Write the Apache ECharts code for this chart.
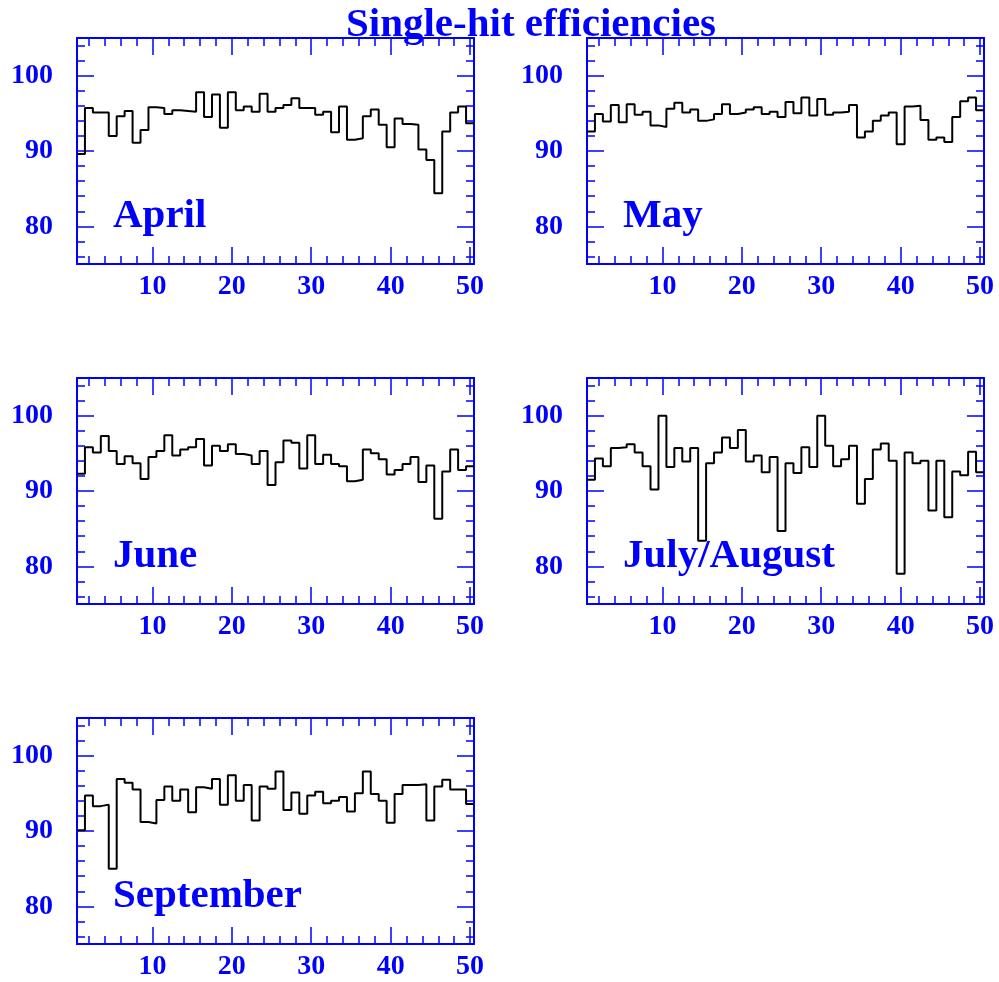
<!DOCTYPE html>
<html>
<head>
<meta charset="utf-8">
<title>Single-hit efficiencies</title>
<script src="https://cdn.jsdelivr.net/npm/echarts@6/dist/echarts.min.js"></script>
<style>
  html, body { margin: 0; padding: 0; background: #ffffff; }
  #chart { width: 999px; height: 982px; }
</style>
</head>
<body>
<div id="chart"></div>
<script>
// Single-hit efficiency (%) per detector plane, bins 1..50
const months = ['April', 'May', 'June', 'July/August', 'September'];

const april = [89.6, 95.7, 95.1, 95.1, 92.0, 94.6, 95.3, 91.1, 92.8, 95.8,
               95.7, 94.9, 95.4, 95.3, 95.2, 97.8, 94.5, 97.5, 93.1, 97.8,
               95.4, 95.9, 95.2, 97.6, 95.2, 95.7, 96.1, 97.0, 95.7, 95.7,
               94.8, 95.2, 92.5, 95.9, 91.5, 91.7, 94.6, 95.5, 93.5, 90.5,
               94.3, 93.6, 93.5, 90.2, 88.8, 84.4, 92.6, 95.1, 95.9, 93.7];

const may = [92.6, 94.9, 93.9, 96.1, 93.8, 96.2, 94.8, 95.2, 93.4, 93.2,
             95.6, 96.4, 95.1, 95.5, 94.0, 94.2, 94.9, 96.2, 94.9, 95.1,
             95.5, 95.8, 94.9, 95.2, 94.5, 96.5, 95.0, 97.1, 94.7, 96.9,
             94.8, 95.1, 95.2, 96.1, 91.8, 92.6, 94.0, 94.7, 95.1, 90.9,
             95.9, 96.0, 94.1, 91.5, 91.8, 91.2, 94.5, 96.6, 97.1, 95.4];

const june = [92.3, 95.8, 95.1, 97.3, 95.3, 93.6, 94.6, 93.7, 91.6, 94.5,
              95.3, 97.4, 94.7, 95.5, 95.8, 96.9, 93.4, 96.0, 95.3, 96.2,
              94.9, 94.7, 93.6, 95.3, 90.8, 93.8, 96.7, 96.4, 93.0, 97.4,
              93.6, 94.8, 93.6, 93.3, 91.3, 91.5, 95.5, 95.0, 94.2, 92.2,
              92.8, 93.6, 94.5, 91.2, 93.4, 86.3, 92.6, 95.5, 92.8, 93.3];

const julyAugust = [91.5, 94.3, 93.3, 95.7, 95.8, 96.2, 95.1, 93.3, 90.2, 100.0,
                    93.2, 95.7, 93.9, 95.7, 83.4, 93.7, 95.1, 97.1, 95.7, 98.1,
                    93.9, 94.7, 92.5, 94.5, 84.7, 93.7, 92.4, 95.8, 93.2, 100.0,
                    96.0, 93.3, 94.2, 96.0, 88.3, 91.6, 95.5, 96.3, 94.0, 79.0,
                    95.1, 93.7, 94.0, 87.4, 94.0, 86.5, 92.6, 92.1, 95.2, 92.5];

const september = [90.1, 94.7, 93.3, 93.5, 85.0, 96.9, 96.4, 95.5, 91.2, 91.0,
                   94.1, 95.9, 94.0, 95.5, 92.5, 95.8, 95.6, 96.9, 93.5, 97.4,
                   94.0, 96.1, 91.4, 95.9, 95.6, 97.9, 92.8, 95.1, 92.3, 94.7,
                   95.2, 93.7, 94.0, 94.5, 92.6, 95.0, 97.9, 94.9, 94.0, 91.1,
                   94.9, 96.1, 96.1, 96.2, 91.4, 95.9, 96.8, 95.5, 95.5, 93.6];

const xMajorTicks = [10, 20, 30, 40, 50];
const xMinorTicks = [2, 4, 6, 8, 12, 14, 16, 18, 22, 24, 26, 28, 32, 34, 36, 38, 42, 44, 46, 48];
const yMajorTicks = [80, 90, 100];
const yMinorTicks = [76, 78, 82, 84, 86, 88, 92, 94, 96, 98, 102, 104];

const series = [april, may, june, julyAugust, september];

// Panel layout (pixels)
const panelPos = [
  { left: 77, top: 38 }, { left: 587, top: 38 },
  { left: 77, top: 378 }, { left: 587, top: 378 },
  { left: 77, top: 718 }
];
const PANEL_W = 397, PANEL_H = 226;

const BLUE = '#0000ff';
const FONT = '"Liberation Serif", "Times New Roman", serif';
const frameStyle = { color: BLUE, width: 2 };
const tickStyle = { color: BLUE, width: 1.5 };

const grids = [], xAxes = [], yAxes = [], seriesList = [], graphics = [];

// Histogram outline: each bin is a flat step between its edges
function binOutline(values) {
  const pts = [];
  values.forEach((v, i) => {
    pts.push([i + 0.5, v]);
    pts.push([i + 1.5, v]);
  });
  return pts;
}

series.forEach((vals, g) => {
  const p = panelPos[g];
  grids.push({ left: p.left, top: p.top, width: PANEL_W, height: PANEL_H, containLabel: false });

  const xBase = { gridIndex: g, type: 'value', min: 0.5, max: 50.5, splitLine: { show: false } };
  const yBase = { gridIndex: g, type: 'value', min: 75, max: 105, splitLine: { show: false } };

  // x: major ticks (bottom with labels, top mirrored), then minor ticks on both sides
  xAxes.push(Object.assign({}, xBase, {
    position: 'bottom',
    axisLine: { show: true, onZero: false, lineStyle: frameStyle },
    axisTick: { show: true, inside: true, length: 17, customValues: xMajorTicks, lineStyle: tickStyle },
    axisLabel: { show: true, customValues: xMajorTicks, margin: 9, color: BLUE,
                 fontFamily: FONT, fontWeight: 'bold', fontSize: 28 }
  }));
  xAxes.push(Object.assign({}, xBase, {
    position: 'top',
    axisLine: { show: true, onZero: false, lineStyle: frameStyle },
    axisTick: { show: true, inside: true, length: 17, customValues: xMajorTicks, lineStyle: tickStyle },
    axisLabel: { show: false }
  }));
  xAxes.push(Object.assign({}, xBase, {
    position: 'bottom',
    axisLine: { show: false, onZero: false },
    axisTick: { show: true, inside: true, length: 8, customValues: xMinorTicks, lineStyle: tickStyle },
    axisLabel: { show: false }
  }));
  xAxes.push(Object.assign({}, xBase, {
    position: 'top',
    axisLine: { show: false, onZero: false },
    axisTick: { show: true, inside: true, length: 8, customValues: xMinorTicks, lineStyle: tickStyle },
    axisLabel: { show: false }
  }));

  // y: same arrangement, labels on the left
  yAxes.push(Object.assign({}, yBase, {
    position: 'left',
    axisLine: { show: true, onZero: false, lineStyle: frameStyle },
    axisTick: { show: true, inside: true, length: 17, customValues: yMajorTicks, lineStyle: tickStyle },
    axisLabel: { show: true, customValues: yMajorTicks, margin: 24, color: BLUE,
                 padding: [4, 0, 0, 0],
                 fontFamily: FONT, fontWeight: 'bold', fontSize: 28 }
  }));
  yAxes.push(Object.assign({}, yBase, {
    position: 'right',
    axisLine: { show: true, onZero: false, lineStyle: frameStyle },
    axisTick: { show: true, inside: true, length: 17, customValues: yMajorTicks, lineStyle: tickStyle },
    axisLabel: { show: false }
  }));
  yAxes.push(Object.assign({}, yBase, {
    position: 'left',
    axisLine: { show: false, onZero: false },
    axisTick: { show: true, inside: true, length: 8, customValues: yMinorTicks, lineStyle: tickStyle },
    axisLabel: { show: false }
  }));
  yAxes.push(Object.assign({}, yBase, {
    position: 'right',
    axisLine: { show: false, onZero: false },
    axisTick: { show: true, inside: true, length: 8, customValues: yMinorTicks, lineStyle: tickStyle },
    axisLabel: { show: false }
  }));

  seriesList.push({
    type: 'line',
    name: months[g],
    xAxisIndex: g * 4,
    yAxisIndex: g * 4,
    data: binOutline(vals),
    symbol: 'none',
    lineStyle: { color: '#000000', width: 2 },
    silent: true,
    z: 3
  });

  // Month label inside the panel
  graphics.push({
    type: 'text',
    x: p.left + 36,
    y: p.top + 178,
    z: 10,
    style: {
      text: months[g],
      fill: BLUE,
      fontFamily: FONT,
      fontWeight: 'bold',
      fontSize: 41,
      align: 'left',
      verticalAlign: 'middle'
    }
  });
});

// Page title, drawn over the upper frames
graphics.push({
  type: 'text',
  x: 531,
  y: 25,
  z: 20,
  style: {
    text: 'Single-hit efficiencies',
    fill: BLUE,
    fontFamily: FONT,
    fontWeight: 'bold',
    fontSize: 41,
    align: 'center',
    verticalAlign: 'middle'
  }
});

const chart = echarts.init(document.getElementById('chart'), null, { renderer: 'canvas' });
chart.setOption({
  backgroundColor: '#ffffff',
  animation: false,
  grid: grids,
  xAxis: xAxes,
  yAxis: yAxes,
  series: seriesList,
  graphic: graphics
});
</script>
</body>
</html>
